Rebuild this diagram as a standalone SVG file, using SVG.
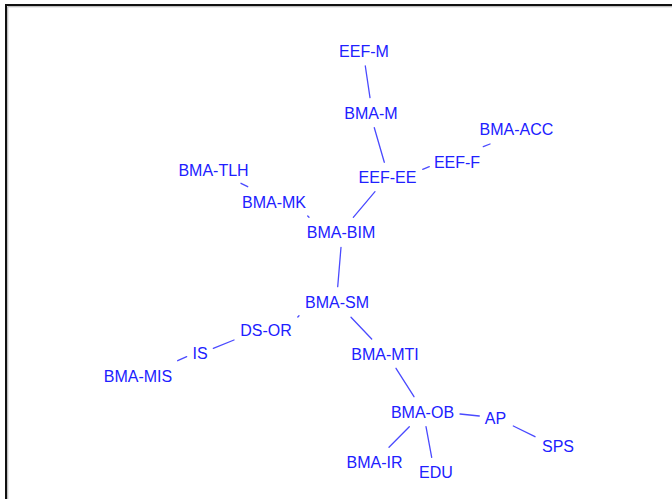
<svg xmlns="http://www.w3.org/2000/svg" width="672" height="499" viewBox="0 0 672 499">
<style>
.n text{font-family:"Liberation Sans",Arial,sans-serif;font-size:16px;fill:#2020ff;text-anchor:middle}
#edges line{stroke:#4a4aff;stroke-width:1.3;stroke-linecap:round}
</style>
<rect x="0" y="0" width="672" height="499" fill="#fff"/>
<rect x="6" y="5" width="700" height="600" fill="none" stroke="#111" stroke-width="2"/>
<rect x="7.8" y="6.8" width="700" height="600" fill="none" stroke="#999" stroke-width="0.8"/>
<g id="edges">
<line x1="365.3" y1="66" x2="370" y2="97.7"/>
<line x1="374.3" y1="127.7" x2="384.3" y2="162.3"/>
<line x1="483.3" y1="146.7" x2="490" y2="144"/>
<line x1="422.7" y1="169.3" x2="429.3" y2="166.7"/>
<line x1="375" y1="191.7" x2="353.3" y2="217.3"/>
<line x1="241" y1="183.3" x2="247.7" y2="186.7"/>
<line x1="307.7" y1="216" x2="309" y2="217.3"/>
<line x1="341" y1="247.3" x2="337.7" y2="286.7"/>
<line x1="299" y1="315.7" x2="297.8" y2="317"/>
<line x1="213.3" y1="348.3" x2="234" y2="340"/>
<line x1="177.7" y1="360.7" x2="186.7" y2="356.7"/>
<line x1="351" y1="317.3" x2="371.7" y2="339"/>
<line x1="396" y1="368.3" x2="414" y2="396.7"/>
<line x1="460" y1="414" x2="479.3" y2="416"/>
<line x1="513.3" y1="426" x2="535" y2="436.7"/>
<line x1="409.3" y1="426.7" x2="389" y2="447.3"/>
<line x1="426" y1="426.7" x2="431.7" y2="457.3"/>
</g>
<g id="n-EEF-M" class="n"><text x="364" y="57">EEF-M</text></g>
<g id="n-BMA-M" class="n"><text x="371" y="119.3">BMA-M</text></g>
<g id="n-BMA-ACC" class="n"><text x="516.5" y="135.3">BMA-ACC</text></g>
<g id="n-EEF-F" class="n"><text x="457" y="168.3">EEF-F</text></g>
<g id="n-EEF-EE" class="n"><text x="387.5" y="183.3">EEF-EE</text></g>
<g id="n-BMA-TLH" class="n"><text x="213.5" y="175.7">BMA-TLH</text></g>
<g id="n-BMA-MK" class="n"><text x="274" y="208.3">BMA-MK</text></g>
<g id="n-BMA-BIM" class="n"><text x="341" y="238.3">BMA-BIM</text></g>
<g id="n-BMA-SM" class="n"><text x="337" y="308.3">BMA-SM</text></g>
<g id="n-DS-OR" class="n"><text x="266" y="335.7">DS-OR</text></g>
<g id="n-IS" class="n"><text x="200" y="358.7">IS</text></g>
<g id="n-BMA-MIS" class="n"><text x="138" y="381.7">BMA-MIS</text></g>
<g id="n-BMA-MTI" class="n"><text x="385" y="360">BMA-MTI</text></g>
<g id="n-BMA-OB" class="n"><text x="422.5" y="417.7">BMA-OB</text></g>
<g id="n-AP" class="n"><text x="495.5" y="424">AP</text></g>
<g id="n-SPS" class="n"><text x="558" y="452.3">SPS</text></g>
<g id="n-BMA-IR" class="n"><text x="374.5" y="467.7">BMA-IR</text></g>
<g id="n-EDU" class="n"><text x="436" y="478.3">EDU</text></g>
</svg>
